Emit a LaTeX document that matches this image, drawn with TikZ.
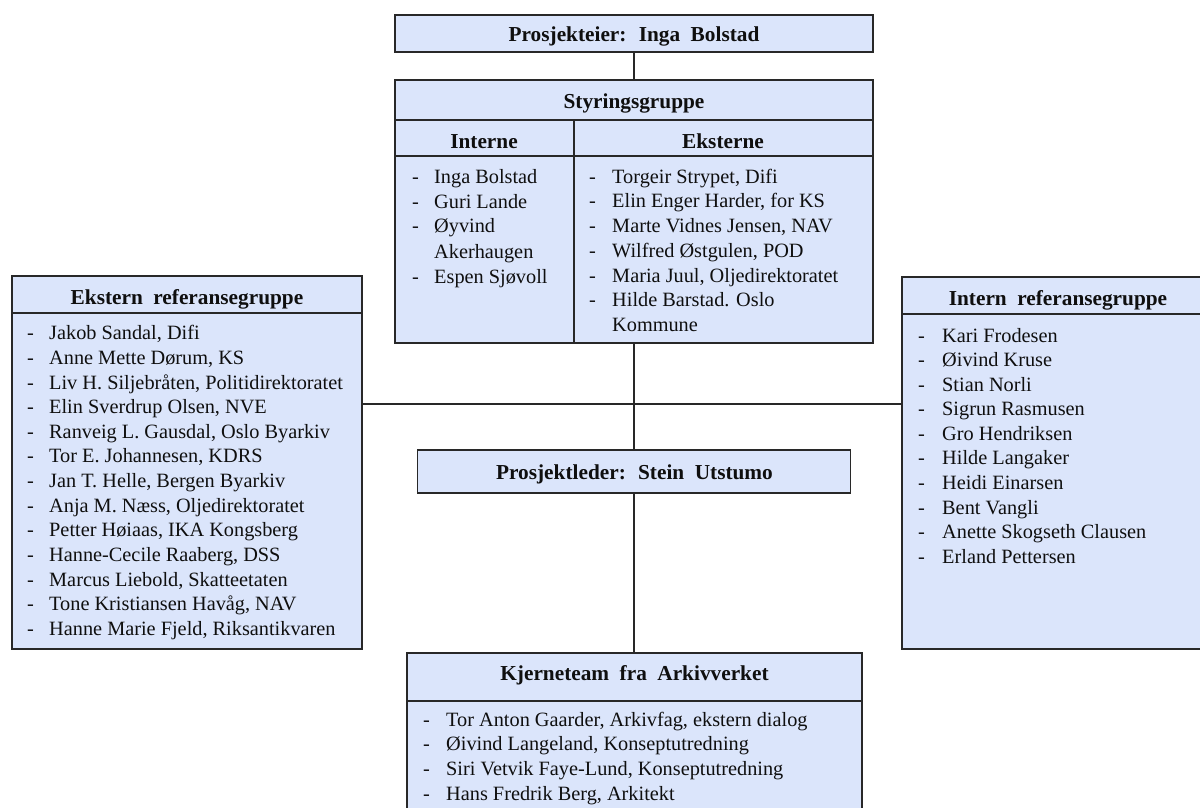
\documentclass[tikz,border=0pt]{standalone}
\usepackage{fontspec}
\setmainfont{Liberation Serif}
\definecolor{boxfill}{RGB}{219,229,251}
\definecolor{edge}{RGB}{40,40,40}
\definecolor{txt}{RGB}{15,15,15}
\newcommand\ttlspacing{\spaceskip=10.5pt\relax}
\begin{document}
\begin{tikzpicture}[x=1pt,y=-1pt,
  boxstyle/.style={draw=edge,line width=1.3pt,fill=boxfill,inner sep=0pt},
  divider/.style={draw=edge,line width=1.3pt},
  conn/.style={draw=edge,line width=1.3pt},
  ttl/.style={font=\fontsize{21.3}{24}\selectfont\bfseries,execute at begin node=\ttlspacing,text=txt,anchor=base,inner sep=0pt},
  itm/.style={font=\fontsize{20.3}{23}\selectfont,text=txt,anchor=base west,inner sep=0pt}]
\useasboundingbox (0,0) rectangle (1200,807);

% boxes
\node[boxstyle,minimum width=478pt,minimum height=37pt] (eier) at (634,33.5) {};
\node[boxstyle,minimum width=478pt,minimum height=263pt] (styr) at (634,211.5) {};
\node[boxstyle,minimum width=350pt,minimum height=373pt] (ext) at (187,462.5) {};
\node[boxstyle,minimum width=312pt,minimum height=372pt] (int) at (1058,463) {};
\node[boxstyle,minimum width=433pt,minimum height=43pt] (leder) at (634,471.5) {};
\node[boxstyle,minimum width=455pt,minimum height=177pt] (kjerne) at (634.5,741.5) {};

% inner dividers
\draw[divider] (395,120) -- (873,120);
\draw[divider] (395,156) -- (873,156);
\draw[divider] (574,120) -- (574,343);
\draw[divider] (12,313) -- (362,313);
\draw[divider] (902,314) -- (1214,314);
\draw[divider] (407,701) -- (862,701);

% connectors
\coordinate (j) at (634,404);
\draw[conn] (eier.south) -- (eier.south |- styr.north);
\draw[conn] (styr.south) -- (styr.south |- leder.north);
\draw[conn] (leder.south) -- (leder.south |- kjerne.north);
\draw[conn] (ext.east |- j) -- (int.west |- j);

% titles
\node[ttl] (t-eier) at (634,41.5) {Prosjekteier: Inga Bolstad};
\node[ttl] (t-styr) at (634,108.5) {Styringsgruppe};
\node[ttl] (t-interne) at (484,148.5) {Interne};
\node[ttl] (t-eksterne) at (723,148.5) {Eksterne};
\node[ttl] (t-ext) at (187,304.5) {Ekstern referansegruppe};
\node[ttl] (t-int) at (1058,305.5) {Intern referansegruppe};
\node[ttl] (t-leder) at (634.5,479.5) {Prosjektleder: Stein Utstumo};
\node[ttl] (t-kjerne) at (634.5,680.5) {Kjerneteam fra Arkivverket};

% Styringsgruppe: Interne
\node[itm] (sid-0) at (412,183.2) {-};
\node[itm] (si-0) at (434,183.2) {Inga Bolstad};
\node[itm] (sid-1) at (412,208.2) {-};
\node[itm] (si-1) at (434,208.2) {Guri Lande};
\node[itm] (sid-2) at (412,232.2) {-};
\node[itm] (si-2) at (434,232.2) {Øyvind};
\node[itm] (si-2b) at (434,258.2) {Akerhaugen};
\node[itm] (sid-3) at (412,283.2) {-};
\node[itm] (si-3) at (434,283.2) {Espen Sjøvoll};

% Styringsgruppe: Eksterne
\foreach \t [count=\i from 0] in {{Torgeir Strypet, Difi},{Elin Enger Harder, for KS},{Marte Vidnes Jensen, NAV},{Wilfred Østgulen, POD},{Maria Juul, Oljedirektoratet},{Hilde Barstad. Oslo}}{
  \node[itm] (sed-\i) at (589,{183.2+24.7*\i}) {-};
  \node[itm] (se-\i) at (612,{183.2+24.7*\i}) {\t};
}
\node[itm] (se-6) at (612,331.2) {Kommune};

% Ekstern referansegruppe
\foreach \t [count=\i from 0] in {{Jakob Sandal, Difi},{Anne Mette Dørum, KS},{Liv H. Siljebråten, Politidirektoratet},{Elin Sverdrup Olsen, NVE},{Ranveig L. Gausdal, Oslo Byarkiv},{Tor E. Johannesen, KDRS},{Jan T. Helle, Bergen Byarkiv},{Anja M. Næss, Oljedirektoratet},{Petter Høiaas, IKA Kongsberg},{Hanne-Cecile Raaberg, DSS},{Marcus Liebold, Skatteetaten},{Tone Kristiansen Havåg, NAV},{Hanne Marie Fjeld, Riksantikvaren}}{
  \node[itm] (exd-\i) at (27,{339.7+24.65*\i}) {-};
  \node[itm] (ex-\i) at (49,{339.7+24.65*\i}) {\t};
}

% Intern referansegruppe
\foreach \t [count=\i from 0] in {{Kari Frodesen},{Øivind Kruse},{Stian Norli},{Sigrun Rasmusen},{Gro Hendriksen},{Hilde Langaker},{Heidi Einarsen},{Bent Vangli},{Anette Skogseth Clausen},{Erland Pettersen}}{
  \node[itm] (ind-\i) at (918,{342.2+24.55*\i}) {-};
  \node[itm] (in-\i) at (942,{342.2+24.55*\i}) {\t};
}

% Kjerneteam
\foreach \t [count=\i from 0] in {{Tor Anton Gaarder, Arkivfag, ekstern dialog},{Øivind Langeland, Konseptutredning},{Siri Vetvik Faye-Lund, Konseptutredning},{Hans Fredrik Berg, Arkitekt}}{
  \node[itm] (kjd-\i) at (423,{726.2+24.7*\i}) {-};
  \node[itm] (kj-\i) at (446,{726.2+24.7*\i}) {\t};
}
\end{tikzpicture}
\end{document}
